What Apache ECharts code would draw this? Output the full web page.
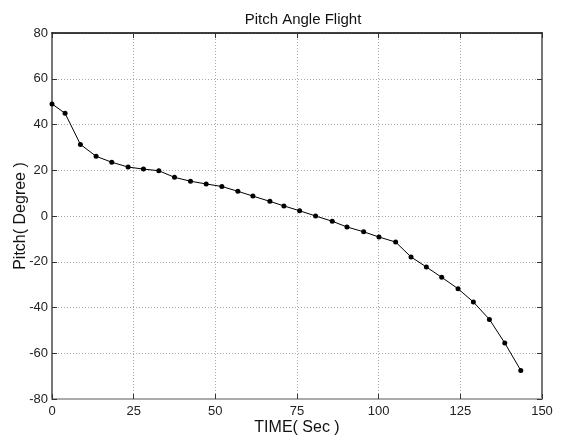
<!DOCTYPE html>
<html><head><meta charset="utf-8">
<script src="https://cdn.jsdelivr.net/npm/echarts@6/dist/echarts.min.js"></script>
<style>html,body{margin:0;padding:0;background:#fff}#c{width:564px;height:441px}</style>
</head><body><div id="c"></div>
<script>
const timeSec = [0, 4.0, 8.7, 13.5, 18.3, 23.3, 28.0, 32.7, 37.5, 42.4, 47.2, 52.0, 56.9, 61.5, 66.7, 71.0, 75.8, 80.7, 85.8, 90.3, 95.4, 100.1, 105.2, 109.9, 114.6, 119.3, 124.3, 129.0, 133.9, 138.6, 143.5];
const pitchDeg = [49.0, 44.9, 31.3, 26.1, 23.5, 21.4, 20.5, 19.8, 16.9, 15.2, 14.0, 12.9, 10.8, 8.7, 6.4, 4.4, 2.3, 0.0, -2.3, -4.8, -6.9, -9.2, -11.4, -17.9, -22.3, -26.8, -31.8, -37.6, -45.2, -55.5, -67.5];
const xTicks = [0, 25, 50, 75, 100, 125, 150];
const yTicks = [-80, -60, -40, -20, 0, 20, 40, 60, 80];

const font = 'Liberation Sans, Arial, sans-serif';
const chart = echarts.init(document.getElementById('c'), null, {renderer: 'canvas'});
const pts = timeSec.map((t, i) => [t, pitchDeg[i]]);
chart.setOption({
  animation: false,
  backgroundColor: '#fff',
  title: {
    text: 'Pitch Angle Flight', left: 298, top: 7, textAlign: 'center',
    textStyle: {fontFamily: font, fontSize: 15, fontWeight: 'normal', color: '#111'}
  },
  grid: {left: 52, right: 22, top: 33, bottom: 42, containLabel: false, outerBoundsMode: 'none'},
  xAxis: [{
    type: 'value', min: xTicks[0], max: xTicks[xTicks.length - 1], interval: 25,
    position: 'bottom',
    name: 'TIME( Sec )', nameLocation: 'middle', nameGap: 21, nameMoveOverlap: false,
    nameTextStyle: {fontFamily: font, fontSize: 16, color: '#111'},
    axisLine: {onZero: false, lineStyle: {color: '#aaa', width: 2}},
    axisTick: {inside: true, length: 5, lineStyle: {color: '#333'}},
    axisLabel: {fontFamily: font, fontSize: 13, color: '#222', margin: 6},
    splitLine: {show: true, lineStyle: {color: '#aaa', type: [1, 2], width: 1}}
  }, {
    type: 'value', min: xTicks[0], max: xTicks[xTicks.length - 1], interval: 25,
    position: 'top',
    axisLine: {onZero: false, lineStyle: {color: '#000', width: 1.5}},
    axisTick: {inside: true, length: 5, lineStyle: {color: '#333'}},
    axisLabel: {show: false}, splitLine: {show: false}
  }],
  yAxis: [{
    type: 'value', min: yTicks[0], max: yTicks[yTicks.length - 1], interval: 20,
    position: 'left',
    name: 'Pitch( Degree )', nameLocation: 'middle', nameGap: 23, nameMoveOverlap: false,
    nameTextStyle: {fontFamily: font, fontSize: 16, color: '#111'},
    axisLine: {show: true, onZero: false, lineStyle: {color: '#777', width: 2}},
    axisTick: {show: true, inside: true, length: 5, lineStyle: {color: '#333'}},
    axisLabel: {fontFamily: font, fontSize: 13, color: '#222', margin: 4},
    splitLine: {show: true, lineStyle: {color: '#aaa', type: [1, 2], width: 1}}
  }, {
    type: 'value', min: yTicks[0], max: yTicks[yTicks.length - 1], interval: 20,
    position: 'right',
    axisLine: {show: true, onZero: false, lineStyle: {color: '#777', width: 2}},
    axisTick: {show: true, inside: true, length: 5, lineStyle: {color: '#333'}},
    axisLabel: {show: false}, splitLine: {show: false}
  }],
  series: [{
    type: 'line', data: pts, xAxisIndex: 0, yAxisIndex: 0,
    symbol: 'circle', symbolSize: 5,
    lineStyle: {color: '#000', width: 1},
    itemStyle: {color: '#000'}
  }]
});
</script></body></html>
